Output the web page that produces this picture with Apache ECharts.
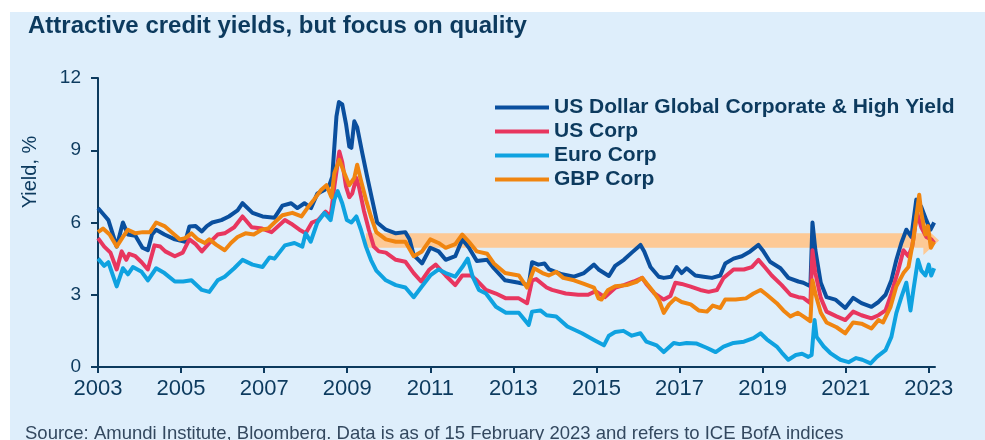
<!DOCTYPE html>
<html><head><meta charset="utf-8">
<script src="https://cdn.jsdelivr.net/npm/echarts@6/dist/echarts.min.js"></script>
<style>html,body{margin:0;padding:0;background:#fff}#c{width:985px;height:440px}</style>
</head><body><div id="c"></div>
<script>
const titleText = 'Attractive credit yields, but focus on quality';
const sourceText = 'Source: Amundi Institute, Bloomberg. Data is as of 15 February 2023 and refers to ICE BofA indices';
const yAxisName = 'Yield, %';
const seriesNames = ['US Dollar Global Corporate & High Yield', 'US Corp', 'Euro Corp', 'GBP Corp'];
const xTickYears = [2003, 2005, 2007, 2009, 2011, 2013, 2015, 2017, 2019, 2021, 2023];
const yTicks = [0, 3, 6, 9, 12];
// highlighted band: [start year, end year, low yield, high yield]
const band = [2009.45, 2022.87, 4.95, 5.55];

const usdGlobal = [
[2003.00,6.6],[2003.15,6.3],[2003.25,6.1],[2003.45,5.0],[2003.60,6.0],[2003.72,5.5],[2003.90,5.45],[2004.07,4.95],[2004.20,4.85],[2004.30,5.5],[2004.40,5.7],[2004.60,5.5],[2004.85,5.3],[2005.10,5.2],[2005.20,5.83],[2005.35,5.85],[2005.50,5.63],[2005.62,5.85],[2005.75,6.0],[2005.97,6.1],[2006.15,6.25],[2006.36,6.5],[2006.48,6.8],[2006.72,6.4],[2006.96,6.25],[2007.25,6.2],[2007.44,6.7],[2007.65,6.8],[2007.80,6.6],[2007.97,6.8],[2008.13,6.6],[2008.28,7.2],[2008.45,7.35],[2008.57,7.55],[2008.64,7.9],[2008.74,10.4],[2008.80,11.0],[2008.88,10.9],[2008.97,10.1],[2009.05,9.15],[2009.10,9.1],[2009.17,10.2],[2009.24,9.95],[2009.36,8.9],[2009.48,7.9],[2009.60,6.95],[2009.72,6.0],[2009.93,5.7],[2010.17,5.55],[2010.40,5.6],[2010.50,5.3],[2010.60,4.65],[2010.80,4.3],[2011.00,4.95],[2011.20,4.8],[2011.37,4.45],[2011.60,4.6],[2011.77,5.3],[2011.93,4.95],[2012.12,4.4],[2012.37,4.45],[2012.53,4.1],[2012.80,3.6],[2013.13,3.5],[2013.37,3.4],[2013.45,4.35],[2013.60,4.25],[2013.75,4.3],[2013.86,4.05],[2014.17,3.85],[2014.46,3.75],[2014.70,3.9],[2014.94,4.25],[2015.05,4.05],[2015.30,3.78],[2015.45,4.2],[2015.66,4.45],[2015.85,4.75],[2016.06,5.07],[2016.15,4.8],[2016.30,4.15],[2016.50,3.75],[2016.62,3.7],[2016.80,3.75],[2016.93,4.15],[2017.05,3.9],[2017.17,4.1],[2017.38,3.8],[2017.58,3.75],[2017.78,3.7],[2017.98,3.8],[2018.10,4.3],[2018.30,4.5],[2018.50,4.6],[2018.70,4.8],[2018.90,5.07],[2019.00,4.85],[2019.18,4.37],[2019.43,4.1],[2019.62,3.7],[2019.86,3.55],[2019.98,3.5],[2020.15,3.35],[2020.20,6.0],[2020.27,4.85],[2020.40,3.5],[2020.54,2.9],[2020.75,2.8],[2020.99,2.45],[2021.18,2.87],[2021.38,2.65],[2021.62,2.5],[2021.79,2.7],[2021.96,3.0],[2022.10,3.6],[2022.22,4.45],[2022.34,5.15],[2022.46,5.7],[2022.58,5.4],[2022.70,6.95],[2022.82,6.65],[2022.94,6.1],[2023.04,5.7],[2023.13,6.0]
];
const usCorp = [
[2003.00,5.35],[2003.15,5.0],[2003.30,4.75],[2003.45,4.05],[2003.57,4.8],[2003.68,4.45],[2003.75,4.7],[2003.90,4.6],[2004.05,4.35],[2004.20,4.05],[2004.36,5.05],[2004.50,5.0],[2004.62,4.8],[2004.85,4.6],[2005.04,4.75],[2005.20,5.3],[2005.35,5.1],[2005.50,4.8],[2005.68,5.15],[2005.88,5.5],[2006.05,5.55],[2006.28,5.8],[2006.48,6.25],[2006.70,5.8],[2006.95,5.75],[2007.18,5.6],[2007.50,6.1],[2007.65,5.95],[2007.85,5.7],[2008.00,5.55],[2008.15,6.0],[2008.30,6.1],[2008.48,6.45],[2008.60,6.25],[2008.69,7.5],[2008.81,8.95],[2008.88,8.5],[2008.97,7.5],[2009.05,7.05],[2009.12,7.2],[2009.22,7.85],[2009.28,7.5],[2009.40,6.5],[2009.52,5.7],[2009.64,5.0],[2009.76,4.8],[2009.93,4.75],[2010.17,4.45],[2010.40,4.37],[2010.60,3.9],[2010.78,3.55],[2010.98,4.05],[2011.13,4.25],[2011.37,3.8],[2011.60,3.4],[2011.77,3.8],[2011.98,3.8],[2012.12,3.6],[2012.34,3.2],[2012.58,3.05],[2012.82,2.85],[2013.13,2.85],[2013.33,2.65],[2013.45,3.6],[2013.55,3.65],[2013.80,3.3],[2013.93,3.2],[2014.26,3.05],[2014.56,3.0],[2014.80,3.0],[2014.98,3.15],[2015.20,2.9],[2015.46,3.3],[2015.66,3.4],[2015.90,3.55],[2016.10,3.7],[2016.20,3.45],[2016.38,3.08],[2016.62,2.8],[2016.78,2.95],[2016.90,3.5],[2017.05,3.45],[2017.25,3.35],[2017.50,3.2],[2017.70,3.12],[2017.90,3.2],[2018.06,3.7],[2018.30,4.05],[2018.55,4.05],[2018.74,4.15],[2018.90,4.45],[2019.05,4.15],[2019.22,3.8],[2019.46,3.4],[2019.67,3.0],[2019.86,2.9],[2019.98,2.87],[2020.15,2.65],[2020.20,4.85],[2020.27,3.9],[2020.40,2.87],[2020.54,2.3],[2020.78,2.1],[2020.99,1.95],[2021.18,2.3],[2021.38,2.15],[2021.62,2.02],[2021.79,2.15],[2021.96,2.35],[2022.10,3.05],[2022.27,4.05],[2022.39,4.85],[2022.51,4.6],[2022.60,5.0],[2022.72,6.4],[2022.82,5.8],[2022.94,5.4],[2023.06,5.3],[2023.13,5.15]
];
const euroCorp = [
[2003.00,4.5],[2003.15,4.2],[2003.25,4.35],[2003.45,3.35],[2003.60,4.1],[2003.72,3.85],[2003.84,4.15],[2004.05,3.95],[2004.20,3.6],[2004.40,4.1],[2004.60,3.9],[2004.85,3.55],[2005.05,3.55],[2005.25,3.6],[2005.50,3.2],[2005.68,3.12],[2005.88,3.6],[2006.05,3.75],[2006.28,4.1],[2006.48,4.45],[2006.72,4.25],[2006.96,4.15],[2007.13,4.55],[2007.25,4.5],[2007.50,5.05],[2007.73,5.15],[2007.92,5.0],[2008.00,5.55],[2008.12,5.2],[2008.28,6.0],[2008.45,6.4],[2008.60,6.1],[2008.69,6.95],[2008.77,7.3],[2008.88,6.8],[2008.99,6.1],[2009.10,6.0],[2009.22,6.25],[2009.33,5.7],[2009.45,5.0],[2009.57,4.45],[2009.70,4.0],[2009.93,3.6],[2010.17,3.4],[2010.40,3.3],[2010.60,2.9],[2010.80,3.35],[2011.00,3.8],[2011.20,4.05],[2011.37,3.9],[2011.60,3.75],[2011.77,4.15],[2011.90,4.5],[2012.02,3.75],[2012.17,3.2],[2012.34,3.05],[2012.58,2.5],[2012.82,2.25],[2013.13,2.25],[2013.37,1.75],[2013.45,2.3],[2013.65,2.35],[2013.80,2.15],[2014.03,2.1],[2014.30,1.68],[2014.65,1.4],[2014.94,1.12],[2015.18,0.9],[2015.30,1.3],[2015.45,1.45],[2015.65,1.5],[2015.85,1.3],[2016.06,1.4],[2016.20,1.05],[2016.45,0.9],[2016.62,0.62],[2016.86,1.0],[2017.00,0.95],[2017.17,1.0],[2017.40,0.98],[2017.65,0.8],[2017.87,0.62],[2018.06,0.85],[2018.30,1.0],[2018.55,1.05],[2018.78,1.2],[2018.95,1.4],[2019.10,1.15],[2019.34,0.85],[2019.46,0.6],[2019.62,0.3],[2019.80,0.5],[2019.95,0.55],[2020.10,0.42],[2020.18,0.5],[2020.25,1.95],[2020.30,1.25],[2020.47,0.85],[2020.63,0.58],[2020.87,0.3],[2021.07,0.2],[2021.25,0.37],[2021.40,0.3],[2021.60,0.15],[2021.75,0.42],[2021.96,0.7],[2022.10,1.25],[2022.22,2.25],[2022.34,2.9],[2022.46,3.5],[2022.56,2.35],[2022.63,3.2],[2022.74,4.45],[2022.82,4.0],[2022.92,3.8],[2023.00,4.25],[2023.06,3.8],[2023.13,4.1]
];
const gbpCorp = [
[2003.00,5.6],[2003.12,5.75],[2003.28,5.5],[2003.45,5.0],[2003.60,5.4],[2003.72,5.7],[2003.90,5.55],[2004.08,5.6],[2004.25,5.6],[2004.40,6.0],[2004.60,5.85],[2004.80,5.55],[2004.97,5.3],[2005.10,5.35],[2005.25,5.55],[2005.40,5.3],[2005.57,5.15],[2005.68,5.3],[2005.85,5.07],[2006.05,4.85],[2006.20,5.15],[2006.36,5.4],[2006.55,5.55],[2006.75,5.5],[2006.94,5.7],[2007.10,5.75],[2007.25,6.0],[2007.44,6.3],[2007.68,6.4],[2007.90,6.25],[2008.04,6.6],[2008.20,6.95],[2008.37,7.35],[2008.50,7.55],[2008.62,7.05],[2008.69,8.05],[2008.81,8.6],[2008.93,8.05],[2009.05,7.55],[2009.17,7.85],[2009.24,8.4],[2009.33,7.75],[2009.45,6.95],[2009.57,6.25],[2009.70,5.6],[2009.93,5.3],[2010.17,5.2],[2010.40,5.2],[2010.60,4.6],[2010.80,4.8],[2011.00,5.3],[2011.20,5.15],[2011.37,4.95],[2011.60,5.1],[2011.77,5.5],[2011.93,5.2],[2012.12,4.8],[2012.37,4.7],[2012.53,4.3],[2012.80,3.9],[2013.13,3.8],[2013.33,3.3],[2013.50,4.1],[2013.70,3.9],[2013.85,3.8],[2014.03,3.95],[2014.20,3.7],[2014.46,3.6],[2014.70,3.45],[2014.94,3.3],[2015.05,2.85],[2015.12,2.8],[2015.28,3.2],[2015.45,3.35],[2015.73,3.4],[2015.98,3.55],[2016.10,3.7],[2016.22,3.45],[2016.38,3.1],[2016.50,2.8],[2016.62,2.25],[2016.75,2.6],[2016.90,2.85],[2017.05,2.7],[2017.27,2.6],[2017.46,2.35],[2017.66,2.3],[2017.80,2.55],[2017.98,2.45],[2018.10,2.8],[2018.35,2.8],[2018.60,2.85],[2018.78,3.05],[2018.95,3.2],[2019.10,3.0],[2019.34,2.65],[2019.50,2.35],[2019.67,2.1],[2019.85,2.25],[2019.98,2.1],[2020.15,1.9],[2020.20,3.6],[2020.27,3.05],[2020.40,2.25],[2020.54,1.85],[2020.78,1.65],[2020.99,1.4],[2021.18,1.85],[2021.38,1.8],[2021.62,1.6],[2021.79,1.95],[2021.90,1.85],[2022.08,2.5],[2022.22,3.35],[2022.39,3.9],[2022.51,4.15],[2022.63,5.3],[2022.77,7.15],[2022.82,6.4],[2022.92,5.5],[2022.98,5.85],[2023.05,4.95],[2023.13,5.2]
];

const colors = ['#0a4f9e', '#e8365f', '#0fa2e0', '#f08510'];
const navy = '#0c3a5e';
const sans = '"Liberation Sans", Arial, sans-serif';

const chart = echarts.init(document.getElementById('c'), null, {renderer: 'canvas'});
const lineSeries = [usdGlobal, usCorp, euroCorp, gbpCorp].map((d, i) => ({
  name: seriesNames[i], type: 'line', data: d, showSymbol: false, symbol: 'none',
  lineStyle: {width: 4, color: colors[i], join: 'round'}, itemStyle: {color: colors[i]},
  z: 3 + i, clip: false
}));

chart.setOption({
  animation: false,
  backgroundColor: '#ffffff',
  graphic: [
    {type: 'rect', left: 10, top: 12, shape: {width: 975, height: 428}, style: {fill: '#deeefb'}, z: -10, silent: true},
    {type: 'text', left: 28, top: 14, style: {text: titleText, font: 'bold 24px ' + sans, fill: navy}, z: 10},
    {type: 'text', x: 30, y: 172, rotation: Math.PI / 2, style: {text: yAxisName, font: '20px ' + sans, fill: navy, align: 'center', verticalAlign: 'middle'}, z: 10},
    {type: 'text', left: 25, top: 424, style: {text: sourceText, font: '18.5px ' + sans, fill: '#33485f'}, z: 10}
  ],
  grid: {left: 98, right: 50, top: 78, bottom: 73, containLabel: false},
  legend: {
    orient: 'vertical', left: 495, top: 97, padding: 0, itemGap: 3,
    itemWidth: 54, itemHeight: 4, icon: 'rect',
    data: seriesNames,
    textStyle: {fontFamily: sans, fontWeight: 'bold', fontSize: 21, lineHeight: 20, color: navy}
  },
  xAxis: {
    type: 'value', min: 2003, max: 2023.15, interval: 2,
    axisLine: {show: true, lineStyle: {color: navy, width: 2}},
    axisTick: {show: true, length: 6, lineStyle: {color: navy, width: 2}, customValues: xTickYears},
    axisLabel: {customValues: xTickYears, formatter: v => xTickYears.includes(v) ? String(v) : '', fontFamily: sans, fontSize: 22, color: navy, margin: 11},
    splitLine: {show: false}
  },
  yAxis: {
    type: 'value', min: 0, max: 12, interval: 3,
    axisLine: {show: true, lineStyle: {color: navy, width: 2}},
    axisTick: {show: true, length: 7, lineStyle: {color: navy, width: 2}},
    axisLabel: {formatter: v => yTicks.includes(v) ? String(v) : '', fontFamily: sans, fontSize: 19, color: navy, margin: 17},
    splitLine: {show: false}
  },
  series: [
    {
      type: 'custom', name: 'band', silent: true, clip: false, z: 1,
      data: [band],
      renderItem: (params, api) => {
        const x0 = api.value(0), x1 = api.value(1), lo = api.value(2), hi = api.value(3);
        const mid = (lo + hi) / 2, half = (hi - lo) / 2;
        const pTL = api.coord([x0, hi]), pTR = api.coord([x1, hi]);
        const pBL = api.coord([x0, lo]), pBR = api.coord([x1, lo]);
        const aT = api.coord([x1, mid + half * 2]), aB = api.coord([x1, mid - half * 2]);
        const tip = api.coord([x1 + 0.38, mid]);
        return {type: 'polygon', shape: {points: [pTL, pTR, aT, tip, aB, pBR, pBL]}, style: {fill: '#fdc995'}};
      }
    },
    ...lineSeries
  ]
});
</script></body></html>
